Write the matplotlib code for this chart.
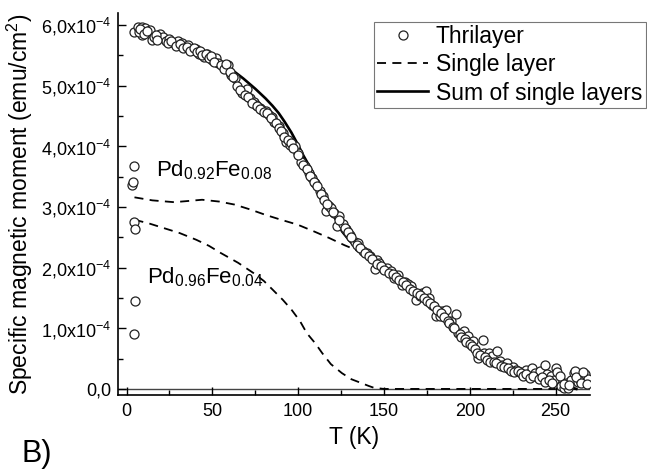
import numpy as np
import matplotlib
matplotlib.use('Agg')
import matplotlib.pyplot as plt
from matplotlib.ticker import FixedLocator, FixedFormatter, MultipleLocator

plt.rcParams['font.family'] = ['Liberation Sans', 'DejaVu Sans']
plt.rcParams['mathtext.default'] = 'regular'

# Thrilayer measurement (T in K, moment in 1e-4 emu/cm^2)
t_thri = [3, 4, 4.6, 4.6, 5, 5, 4.6,
          4.6, 6.5, 9, 11, 13.7, 9, 14.6, 19.4, 21, 23, 25, 27.7, 30, 32, 34, 36,
          38.7, 40.5, 42.4, 45, 47, 50, 52, 53.5, 56, 59, 61, 63, 64.6, 67.3, 70,
          72, 74, 75.6, 77.5, 79, 81, 83, 85, 85.6, 88.6, 91, 93, 95, 98, 99.6,
          101.5, 104, 106, 108, 110, 112.5, 114.4, 116, 118, 119, 121, 122.7,
          123.6, 126, 128, 130, 133, 135, 138, 140, 142, 144.8, 145.8, 147,
          149.4, 152, 154, 156, 158, 160.5, 162, 164, 166, 168.8, 170.7, 172,
          174.4, 176, 178, 180, 182.7, 184, 186.3, 189, 192, 193, 196.5, 199,
          202, 205, 207.6, 208.5, 211, 213, 216, 217.7, 219, 221.4, 223, 225,
          227, 229, 232.5, 234, 236, 238, 239.8, 241, 243.5, 245, 247, 249,
          250, 251, 252.8, 253, 254.6, 256, 257.4, 259, 260.5, 261, 263, 264,
          267, 269,
          7, 8, 10, 12, 16, 17, 18, 24, 26, 29, 31, 33, 35, 37, 39, 41, 43, 44,
          46, 48, 49, 51, 55, 57, 58, 60, 62, 66, 69, 71, 73, 76, 78, 80, 82,
          84, 87, 89, 90, 92, 94, 96, 97, 100, 103, 105, 107, 109, 111, 113,
          115, 117, 120, 124, 127, 129, 131, 134, 136, 139, 141, 143, 146, 148,
          150, 153, 155, 157, 159, 161, 163, 165, 167, 169, 171, 173, 175, 177,
          179, 181, 183, 185, 187, 188, 190, 191, 194, 195, 197, 198, 200, 201,
          203, 204, 206, 209, 210, 212, 214, 215, 218, 220, 222, 224, 226, 228,
          230, 231, 233, 235, 237, 240, 242, 244, 246, 248, 255, 258, 262, 265,
          266, 268]
m_thri = [3.37, 3.42, 3.67, 2.75, 2.64, 1.45, 0.91,
          5.89, 5.97, 5.97, 5.95, 5.92, 5.84, 5.75, 5.86, 5.80, 5.73, 5.77, 5.70,
          5.74, 5.70, 5.64, 5.68, 5.59, 5.61, 5.53, 5.48, 5.52, 5.42, 5.45, 5.37,
          5.32, 5.34, 5.18, 5.12, 4.99, 4.88, 4.95, 4.79, 4.74, 4.69, 4.63, 4.60,
          4.58, 4.52, 4.49, 4.41, 4.33, 4.22, 4.08, 4.03, 4.00, 3.89, 3.75, 3.67,
          3.56, 3.48, 3.40, 3.26, 3.18, 2.93, 3.01, 2.98, 2.90, 2.68, 2.85, 2.72,
          2.63, 2.54, 2.43, 2.40, 2.27, 2.25, 2.19, 1.97, 2.13, 2.08, 1.99, 1.99,
          1.95, 1.83, 1.88, 1.72, 1.77, 1.73, 1.69, 1.47, 1.53, 1.58, 1.61, 1.50,
          1.39, 1.20, 1.20, 1.28, 1.31, 1.12, 1.23, 0.92, 0.95, 0.87, 0.79, 0.51,
          0.81, 0.59, 0.59, 0.55, 0.62, 0.46, 0.40, 0.43, 0.33, 0.37, 0.32, 0.28,
          0.32, 0.25, 0.35, 0.27, 0.21, 0.30, 0.40, 0.24, 0.21, 0.15, 0.35, 0.28,
          0.21, 0.05, 0.02, 0.10, 0.02, 0.14, 0.27, 0.29, 0.12, 0.14, 0.25, 0.16,
          5.88, 5.93, 5.86, 5.90, 5.80, 5.84, 5.76, 5.70, 5.74, 5.66, 5.69, 5.62,
          5.64, 5.58, 5.62, 5.55, 5.57, 5.50, 5.53, 5.45, 5.49, 5.40, 5.35, 5.28,
          5.36, 5.22, 5.15, 4.93, 4.85, 4.82, 4.72, 4.66, 4.62, 4.56, 4.55, 4.47,
          4.38, 4.30, 4.25, 4.15, 4.10, 4.05, 3.98, 3.85, 3.70, 3.62, 3.52, 3.42,
          3.35, 3.22, 3.12, 3.05, 2.92, 2.78, 2.66, 2.58, 2.50, 2.38, 2.33, 2.24,
          2.20, 2.15, 2.06, 2.02, 1.96, 1.92, 1.90, 1.85, 1.80, 1.76, 1.71, 1.65,
          1.62, 1.58, 1.55, 1.50, 1.45, 1.42, 1.36, 1.30, 1.25, 1.18, 1.12, 1.08,
          1.02, 1.00, 0.90, 0.86, 0.82, 0.78, 0.74, 0.70, 0.66, 0.60, 0.56, 0.52,
          0.48, 0.45, 0.44, 0.42, 0.38, 0.36, 0.34, 0.30, 0.28, 0.30, 0.26, 0.22,
          0.25, 0.18, 0.22, 0.16, 0.19, 0.12, 0.15, 0.10, 0.08, 0.06, 0.20, 0.10,
          0.28, 0.08]

# Single layer Pd0.92Fe0.08
t_upper = [4.6, 15, 27.7, 36, 44, 54, 63, 72, 81, 90, 99.6, 109, 118, 127, 133,
           138, 144, 155, 166, 177, 188, 199, 206.6, 216, 229, 243.5, 256.5, 262]
m_upper = [3.16, 3.11, 3.08, 3.10, 3.12, 3.09, 3.04, 2.96, 2.87, 2.79, 2.71,
           2.60, 2.49, 2.37, 2.30, 2.21, 2.10, 1.88, 1.66, 1.42, 1.09, 0.76,
           0.54, 0.37, 0.24, 0.13, 0.04, 0.0]

# Single layer Pd0.96Fe0.04
t_lower = [4.6, 13, 22, 31, 40.6, 48, 55, 65, 74, 80, 85, 91, 96, 101, 105,
           110, 114, 119, 125.5, 131, 136.5, 141, 144, 150, 180, 220, 250]
m_lower = [2.79, 2.73, 2.65, 2.57, 2.46, 2.36, 2.24, 2.08, 1.91, 1.78, 1.64,
           1.47, 1.31, 1.12, 0.92, 0.75, 0.59, 0.41, 0.26, 0.16, 0.10, 0.05,
           0.02, 0.0, 0.0, 0.0, 0.0]

# Sum of single layers
t_sum = [5.5, 14, 22, 31, 40, 48, 55, 62, 68, 75, 81, 85, 88.6, 92, 96, 100,
         103, 107, 110.7, 114, 117, 121, 125.5, 130, 135, 140, 144, 150, 155,
         166, 177, 188, 199, 206.6, 216, 229, 243.5, 256.5, 262]
m_sum = [5.95, 5.85, 5.76, 5.67, 5.58, 5.48, 5.37, 5.25, 5.12, 4.95, 4.79,
         4.67, 4.55, 4.41, 4.23, 4.02, 3.85, 3.65, 3.45, 3.27, 3.07, 2.84,
         2.60, 2.44, 2.30, 2.19, 2.10, 1.98, 1.88, 1.66, 1.42, 1.09, 0.76,
         0.54, 0.37, 0.24, 0.13, 0.04, 0.0]

yticks = [0, 1, 2, 3, 4, 5, 6]
ylabels = ['0,0'] + [f'{v},0x10$^{{-4}}$' for v in yticks[1:]]

scale = 1e-4
fig = plt.figure(figsize=(6.47, 4.71), dpi=100)
ax = fig.add_axes([118 / 647, 1 - 395 / 471, (590 - 118) / 647, (395 - 13) / 471])

ax.plot(t_upper, np.array(m_upper) * scale, color='black', lw=1.3,
        dashes=(5, 3.5), label='Single layer')
ax.plot(t_lower, np.array(m_lower) * scale, color='black', lw=1.3,
        dashes=(5, 3.5))
ax.plot(t_sum, np.array(m_sum) * scale, color='black', lw=1.9,
        label='Sum of single layers')
ax.plot(t_thri, np.array(m_thri) * scale, 'o', mfc='white', mec='#222222',
        ms=6.5, mew=0.9, label='Thrilayer', zorder=3)
ax.axhline(0, color='#444444', lw=1.0, zorder=0)

ax.set_xlim(-5, 270)
ax.set_ylim(-0.1e-4, 6.2e-4)
ax.xaxis.set_major_locator(MultipleLocator(50))
ax.xaxis.set_minor_locator(MultipleLocator(25))
ax.yaxis.set_major_locator(FixedLocator([v * scale for v in yticks]))
ax.yaxis.set_major_formatter(FixedFormatter(ylabels))
ax.yaxis.set_minor_locator(MultipleLocator(0.5e-4))
ax.tick_params(which='both', direction='in', labelsize=13, width=1.0)
ax.tick_params(which='major', length=6)
ax.tick_params(which='minor', length=3.5)
ax.tick_params(axis='x', pad=6)
ax.tick_params(axis='y', pad=5)
for s in ['top', 'right']:
    ax.spines[s].set_visible(False)
for s in ['left', 'bottom']:
    ax.spines[s].set_linewidth(1.2)

ax.set_xlabel('T (K)', fontsize=16.5, labelpad=4)
ax.set_ylabel('Specific magnetic moment (emu/cm$^2$)', fontsize=16.5)
ax.yaxis.set_label_coords(-0.176, 0.5)

ax.text(17, 3.6e-4, 'Pd$_{0.92}$Fe$_{0.08}$', fontsize=16, va='center')
ax.text(12, 1.85e-4, 'Pd$_{0.96}$Fe$_{0.04}$', fontsize=16, va='center')

handles, labels = ax.get_legend_handles_labels()
order = [2, 0, 1]
leg = ax.legend([handles[i] for i in order], [labels[i] for i in order],
                loc='upper left', bbox_to_anchor=(374 / 647, 1 - 22 / 471),
                bbox_transform=fig.transFigure, fontsize=16.5, frameon=True,
                fancybox=False, edgecolor='#777777', framealpha=1,
                handlelength=2.2, handletextpad=0.35, borderpad=0.15,
                labelspacing=0.22, borderaxespad=0)
leg.get_frame().set_linewidth(0.8)

fig.text(22 / 647, 1 - 454 / 471, 'B)', fontsize=22, va='center')

fig.savefig('out.png', dpi=100)
